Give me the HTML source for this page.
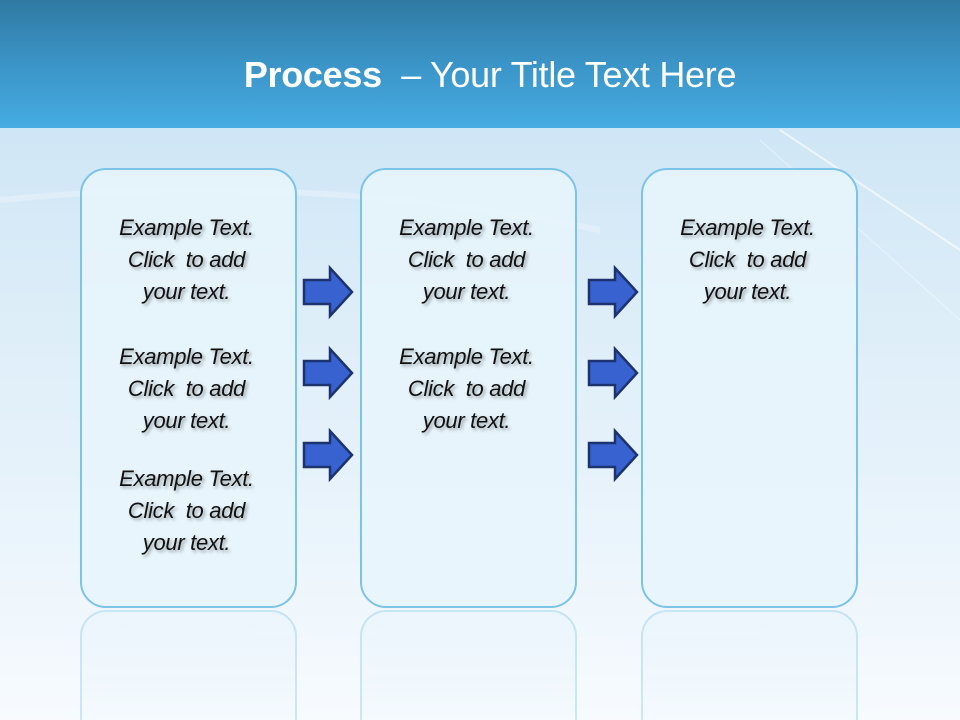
<!DOCTYPE html>
<html><head><meta charset="utf-8"><style>
body{margin:0}
#s{position:relative;width:960px;height:720px;overflow:hidden;font-family:"Liberation Sans",sans-serif;
background:linear-gradient(180deg,#cfe6f6 128px,#dcedf8 300px,#e8f3fb 500px,#f7fbfe 720px)}
#h{position:absolute;left:0;top:0;width:960px;height:128px;background:linear-gradient(180deg,#2f7aa3 0%,#3b94c7 50%,#46ace2 100%)}
#t{position:absolute;left:0;width:980px;top:54px;text-align:center;color:#fff;font-size:36px;letter-spacing:-0.3px}
.b{position:absolute;top:168px;width:213px;height:436px;border:2px solid #7cc3e8;border-radius:26px;background:rgba(232,244,252,0.85)}
.r{position:absolute;top:610px;width:213px;height:140px;border:2px solid rgba(124,195,232,0.35);border-radius:26px;background:linear-gradient(180deg,rgba(232,244,252,0.6),rgba(255,255,255,0))}
.tx{position:absolute;left:-2px;width:100%;text-align:center;font-style:italic;font-size:22px;line-height:32px;color:#111;letter-spacing:-0.3px;text-shadow:2px 2px 3px rgba(0,0,0,0.35)}
</style></head><body><div id="s">
<svg width="960" height="720" style="position:absolute;left:0;top:0">
<path d="M780 130 L960 250" stroke="#fff" stroke-width="2" opacity="0.6"/>
<path d="M760 140 L960 320" stroke="#fff" stroke-width="1" opacity="0.4"/>
<path d="M0 200 Q300 170 600 230" stroke="#fff" stroke-width="6" fill="none" opacity="0.25"/>
</svg>
<div id="h"></div>
<div id="t"><b>Process</b>&nbsp; – Your Title Text Here</div>
<div class="r" style="left:80px"></div><div class="r" style="left:360px"></div><div class="r" style="left:641px"></div>
<div class="b" style="left:80px">
<div class="tx" style="top:42px">Example Text.<br>Click&nbsp; to add<br>your text.</div>
<div class="tx" style="top:171px">Example Text.<br>Click&nbsp; to add<br>your text.</div>
<div class="tx" style="top:293px">Example Text.<br>Click&nbsp; to add<br>your text.</div>
</div>
<div class="b" style="left:360px">
<div class="tx" style="top:42px">Example Text.<br>Click&nbsp; to add<br>your text.</div>
<div class="tx" style="top:171px">Example Text.<br>Click&nbsp; to add<br>your text.</div>
</div>
<div class="b" style="left:641px">
<div class="tx" style="top:42px">Example Text.<br>Click&nbsp; to add<br>your text.</div>
</div>
<svg width="960" height="720" style="position:absolute;left:0;top:0">
<defs><path id="ar" d="M0 12 H26 V0 L48 24 L26 48 V36 H0 Z" fill="#3762d0" stroke="#1c3370" stroke-width="2.5" stroke-linejoin="miter"/></defs>
<use href="#ar" x="304" y="268"/><use href="#ar" x="304" y="349"/><use href="#ar" x="304" y="431"/>
<use href="#ar" x="589" y="268"/><use href="#ar" x="589" y="349"/><use href="#ar" x="589" y="431"/>
</svg>
</div></body></html>
